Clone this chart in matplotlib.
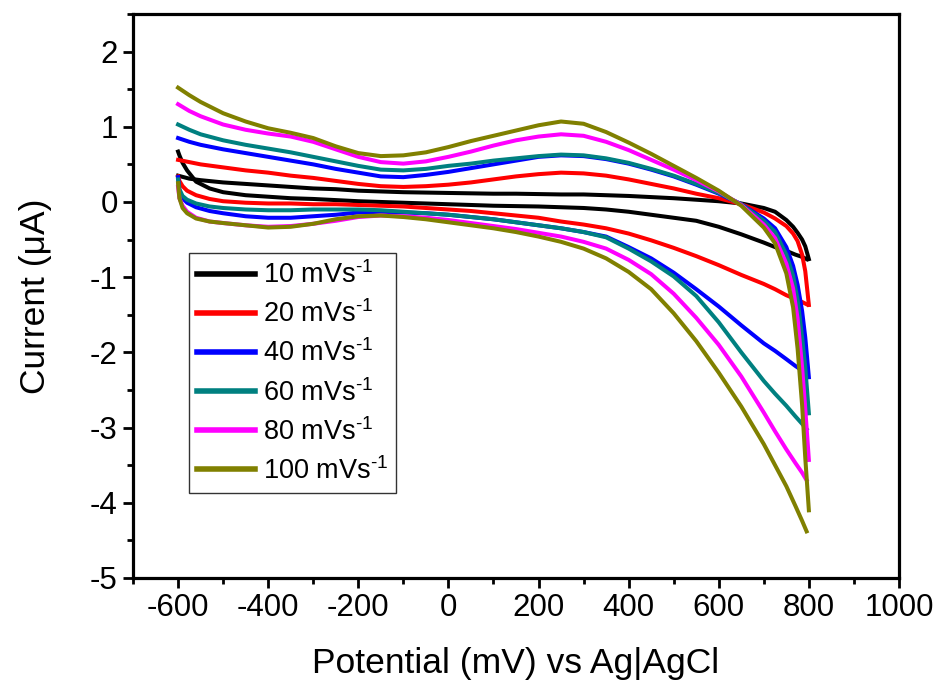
import matplotlib
matplotlib.use("Agg")
import matplotlib.pyplot as plt
from matplotlib.ticker import MultipleLocator

plt.rcParams['font.family'] = ['Liberation Sans', 'DejaVu Sans']
plt.rcParams['mathtext.fontset'] = 'custom'
plt.rcParams['mathtext.rm'] = 'Liberation Sans'
plt.rcParams['mathtext.it'] = 'Liberation Sans:italic'
plt.rcParams['mathtext.bf'] = 'Liberation Sans:bold'
plt.rcParams['axes.unicode_minus'] = False

# Potential grids (mV) for forward (upper) and reverse (lower) sweeps
V_FWD = [-600, -575, -550, -500, -450, -400, -350, -300, -250, -200, -150, -100, -50, 0,
         50, 100, 150, 200, 250, 300, 350, 400, 450, 500, 550, 600, 650, 700, 725, 750,
         765, 775, 785, 792, 800]
V_REV = [795, 785, 770, 750, 725, 700, 650, 600, 550, 500, 450, 400, 350, 300, 250, 200,
         150, 100, 50, 0, -50, -100, -150, -200, -250, -300, -350, -400, -450, -500, -530,
         -560, -580, -590, -597, -600]

SCAN_LABELS = ["10 mVs$^{\\text{-}1}$", "20 mVs$^{\\text{-}1}$", "40 mVs$^{\\text{-}1}$",
               "60 mVs$^{\\text{-}1}$", "80 mVs$^{\\text{-}1}$", "100 mVs$^{\\text{-}1}$"]
COLORS = ["#000000", "#FF0000", "#0000FF", "#008080", "#FF00FF", "#808000"]

# Current (uA), forward sweep
I_FWD_10 = [0.35, 0.31, 0.29, 0.26, 0.24, 0.22, 0.20, 0.18, 0.17, 0.15, 0.14, 0.13, 0.125, 0.12,
            0.115, 0.11, 0.11, 0.105, 0.10, 0.10, 0.09, 0.08, 0.065, 0.05, 0.03, 0.01, -0.02,
            -0.08, -0.13, -0.24, -0.33, -0.41, -0.50, -0.59, -0.76]
I_FWD_20 = [0.56, 0.53, 0.50, 0.46, 0.42, 0.39, 0.35, 0.32, 0.28, 0.24, 0.21, 0.20, 0.21, 0.23,
            0.26, 0.30, 0.34, 0.37, 0.39, 0.38, 0.35, 0.30, 0.24, 0.18, 0.11, 0.05, -0.03,
            -0.14, -0.22, -0.32, -0.42, -0.52, -0.70, -0.92, -1.37]
I_FWD_40 = [0.85, 0.80, 0.76, 0.70, 0.65, 0.60, 0.55, 0.50, 0.44, 0.39, 0.34, 0.33, 0.36, 0.40,
            0.45, 0.50, 0.55, 0.60, 0.62, 0.61, 0.57, 0.51, 0.43, 0.34, 0.23, 0.11, -0.03,
            -0.22, -0.35, -0.60, -0.85, -1.10, -1.45, -1.80, -2.33]
I_FWD_60 = [1.03, 0.96, 0.90, 0.82, 0.76, 0.71, 0.66, 0.60, 0.54, 0.48, 0.43, 0.42, 0.44, 0.48,
            0.51, 0.55, 0.58, 0.61, 0.63, 0.62, 0.58, 0.52, 0.44, 0.35, 0.24, 0.12, -0.03,
            -0.25, -0.40, -0.70, -0.98, -1.30, -1.80, -2.20, -2.81]
I_FWD_80 = [1.30, 1.21, 1.14, 1.03, 0.96, 0.91, 0.87, 0.80, 0.70, 0.60, 0.53, 0.51, 0.54, 0.60,
            0.67, 0.75, 0.82, 0.87, 0.90, 0.88, 0.80, 0.69, 0.56, 0.43, 0.29, 0.14, -0.04,
            -0.30, -0.48, -0.82, -1.15, -1.55, -2.20, -2.75, -3.43]
I_FWD_100 = [1.52, 1.42, 1.33, 1.18, 1.07, 0.98, 0.92, 0.85, 0.74, 0.65, 0.61, 0.62, 0.66, 0.73,
             0.81, 0.88, 0.95, 1.02, 1.07, 1.04, 0.93, 0.79, 0.64, 0.48, 0.32, 0.15, -0.05,
             -0.34, -0.55, -0.95, -1.40, -1.95, -2.70, -3.40, -4.10]

# Current (uA), reverse sweep
I_REV_10 = [-0.76, -0.73, -0.70, -0.65, -0.60, -0.54, -0.43, -0.33, -0.25, -0.21, -0.17, -0.13,
            -0.10, -0.08, -0.07, -0.06, -0.055, -0.05, -0.04, -0.03, -0.02, -0.01, 0.0, 0.01,
            0.025, 0.04, 0.05, 0.07, 0.09, 0.13, 0.18, 0.27, 0.42, 0.52, 0.62, 0.67]
I_REV_20 = [-1.36, -1.33, -1.29, -1.24, -1.16, -1.09, -0.97, -0.84, -0.72, -0.61, -0.51, -0.42,
            -0.35, -0.30, -0.26, -0.21, -0.18, -0.15, -0.12, -0.10, -0.08, -0.06, -0.05, -0.04,
            -0.03, -0.03, -0.02, -0.02, -0.01, 0.01, 0.04, 0.09, 0.15, 0.21, 0.28, 0.34]
I_REV_40 = [-2.28, -2.24, -2.18, -2.09, -1.98, -1.88, -1.64, -1.39, -1.16, -0.94, -0.75, -0.60,
            -0.46, -0.40, -0.35, -0.31, -0.27, -0.23, -0.20, -0.17, -0.15, -0.14, -0.13, -0.14,
            -0.17, -0.19, -0.21, -0.21, -0.19, -0.15, -0.12, -0.07, -0.01, 0.05, 0.15, 0.33]
I_REV_60 = [-3.02, -2.95, -2.85, -2.71, -2.55, -2.38, -2.00, -1.60, -1.25, -0.99, -0.79, -0.62,
            -0.47, -0.40, -0.35, -0.31, -0.27, -0.23, -0.20, -0.17, -0.15, -0.13, -0.11, -0.10,
            -0.10, -0.10, -0.11, -0.11, -0.10, -0.08, -0.06, -0.02, 0.03, 0.08, 0.17, 0.30]
I_REV_80 = [-3.70, -3.60, -3.47, -3.29, -3.05, -2.80, -2.32, -1.90, -1.54, -1.22, -0.96, -0.77,
            -0.62, -0.53, -0.46, -0.41, -0.36, -0.32, -0.28, -0.24, -0.21, -0.19, -0.18, -0.20,
            -0.25, -0.29, -0.32, -0.33, -0.31, -0.28, -0.26, -0.21, -0.13, -0.05, 0.05, 0.20]
I_REV_100 = [-4.38, -4.24, -4.04, -3.78, -3.50, -3.22, -2.72, -2.27, -1.85, -1.48, -1.16, -0.93,
             -0.75, -0.62, -0.53, -0.46, -0.40, -0.35, -0.31, -0.27, -0.23, -0.20, -0.18, -0.19,
             -0.23, -0.29, -0.33, -0.34, -0.31, -0.28, -0.26, -0.22, -0.15, -0.08, 0.05, 0.25]

FWD = [I_FWD_10, I_FWD_20, I_FWD_40, I_FWD_60, I_FWD_80, I_FWD_100]
REV = [I_REV_10, I_REV_20, I_REV_40, I_REV_60, I_REV_80, I_REV_100]

X_TICKS = [-600, -400, -200, 0, 200, 400, 600, 800, 1000]
Y_TICKS = [-5, -4, -3, -2, -1, 0, 1, 2]

fig = plt.figure(figsize=(9.38, 6.88), dpi=100)
ax = fig.add_axes([0.1418, 0.1599, 0.8166, 0.8198])

lw = 2.9
for fwd, rev, col, lab in zip(FWD, REV, COLORS, SCAN_LABELS):
    ax.plot(V_FWD, fwd, color=col, lw=lw, label=lab, solid_joinstyle='round')
    ax.plot(V_REV, rev, color=col, lw=lw, solid_joinstyle='round')

ax.set_xlim(-700, 1000)
ax.set_ylim(-5, 2.5)
ax.set_xticks(X_TICKS)
ax.set_yticks(Y_TICKS)
ax.xaxis.set_minor_locator(MultipleLocator(100))
ax.yaxis.set_minor_locator(MultipleLocator(0.5))
ax.tick_params(which='major', direction='out', length=7, width=2.0, labelsize=22.5, pad=4,
               top=False, right=False)
ax.tick_params(which='minor', direction='out', length=4, width=2.0, top=False, right=False)
for s in ax.spines.values():
    s.set_linewidth(2.3)

ax.set_xlabel("Potential (mV) vs Ag|AgCl", fontsize=25.5, labelpad=17)
ax.set_ylabel("Current (\u03bcA)", fontsize=25.5, labelpad=27)

leg = ax.legend(loc='upper left', bbox_to_anchor=(0.073, 0.576), fontsize=19.5,
                frameon=True, fancybox=False, edgecolor='black', handlelength=2.15,
                handletextpad=0.28, labelspacing=0.42, borderpad=0.3, borderaxespad=0)
leg.get_frame().set_linewidth(1.0)
for h in leg.get_lines():
    h.set_linewidth(4)

fig.savefig("out.png", dpi=100)
